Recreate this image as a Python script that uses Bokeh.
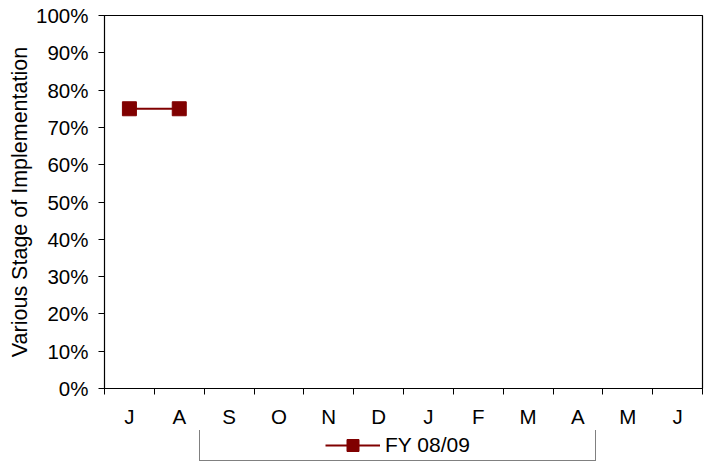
from bokeh.plotting import figure
from bokeh.models import Range1d, FixedTicker, NumeralTickFormatter, Legend, LegendItem
from bokeh.layouts import column
from bokeh.core.properties import value
from bokeh.embed import file_html
from bokeh.resources import INLINE
import numpy as np

months = ["J", "A", "S", "O", "N", "D", "J", "F", "M", "A", "M", "J"]
series_name = "FY 08/09"
values = [0.75, 0.75, None, None, None, None, None, None, None, None, None, None]
y_ticks = [i / 10 for i in range(11)]

FONT = "Liberation Sans"
FS = "20.5px"
RED = "#800000"

xs = [i + 0.5 for i in range(len(months))]
ys = [np.nan if v is None else v for v in values]

# ---------------- main chart ----------------
p = figure(width=707, height=430, output_backend="svg", toolbar_location=None,
           x_range=Range1d(0, len(months)), y_range=Range1d(0, 1),
           min_border_left=104, min_border_right=5, min_border_top=15, min_border_bottom=42)
p.background_fill_color = "white"
p.border_fill_color = "white"
p.outline_line_color = "black"
p.outline_line_width = 1.2
p.xgrid.visible = False
p.ygrid.visible = False

# x axis: labels centred in each category, ticks on the category boundaries
p.xaxis.ticker = FixedTicker(ticks=xs, minor_ticks=list(range(len(months) + 1)))
p.xaxis.major_label_overrides = {x: m for x, m in zip(xs, months)}
p.xaxis.major_tick_out = 0
p.xaxis.major_tick_in = 0
p.xaxis.minor_tick_out = 6
p.xaxis.minor_tick_in = 0
p.xaxis.minor_tick_line_color = "black"
p.xaxis.axis_line_color = "black"
p.xaxis.major_label_standoff = 10
p.xaxis.major_label_text_font = FONT
p.xaxis.major_label_text_font_size = FS
p.xaxis.major_label_text_color = "black"

# y axis
p.yaxis.ticker = FixedTicker(ticks=y_ticks)
p.yaxis.formatter = NumeralTickFormatter(format="0%")
p.yaxis.major_tick_out = 6
p.yaxis.major_tick_in = 0
p.yaxis.minor_tick_out = 0
p.yaxis.minor_tick_in = 0
p.yaxis.axis_line_color = "black"
p.yaxis.major_label_standoff = 10
p.yaxis.major_label_text_font = FONT
p.yaxis.major_label_text_font_size = FS
p.yaxis.major_label_text_color = "black"
p.yaxis.axis_label = "Various Stage of Implementation"
p.yaxis.axis_label_text_font = FONT
p.yaxis.axis_label_text_font_size = "21.5px"
p.yaxis.axis_label_text_font_style = "normal"
p.yaxis.axis_label_text_color = "black"
p.yaxis.axis_label_standoff = 1

p.line(xs, ys, line_color=RED, line_width=2)
p.scatter(xs, ys, marker="square", size=14, fill_color=RED, line_color=RED)

# ---------------- legend strip ----------------
# the strip's y range lies away from the data, so its key renderers draw only in the legend
lg = figure(width=707, height=32, output_backend="svg", toolbar_location=None,
            x_range=Range1d(0, len(months)), y_range=Range1d(-2, -1),
            x_axis_type=None, y_axis_type=None,
            min_border_left=104, min_border_right=5, min_border_top=0, min_border_bottom=0)
lg.outline_line_color = None
lg.xgrid.visible = False
lg.ygrid.visible = False
lg.background_fill_color = "white"
lg.border_fill_color = "white"

ln_key = lg.line(xs, ys, line_color=RED, line_width=2)
mk_key = lg.scatter(xs, ys, marker="square", fill_color=RED, line_color=RED)
spacer = lg.line(xs, ys, line_alpha=0)

legend = Legend(items=[LegendItem(label=value(" "), renderers=[spacer]),
                       LegendItem(label=value(series_name), renderers=[ln_key, mk_key]),
                       LegendItem(label=value(" "), renderers=[spacer])],
                location=(95, 1), orientation="horizontal",
                padding=0, margin=0, spacing=65, glyph_width=55, glyph_height=30,
                label_width=0, label_height=30, label_standoff=5,
                label_text_font=FONT, label_text_font_size="21px", label_text_color="black",
                border_line_color="#808080", border_line_width=1, border_line_alpha=1,
                background_fill_color="white", background_fill_alpha=1)
lg.add_layout(legend, "center")

open("out.html", "w").write(file_html(column(p, lg, spacing=0), INLINE))
